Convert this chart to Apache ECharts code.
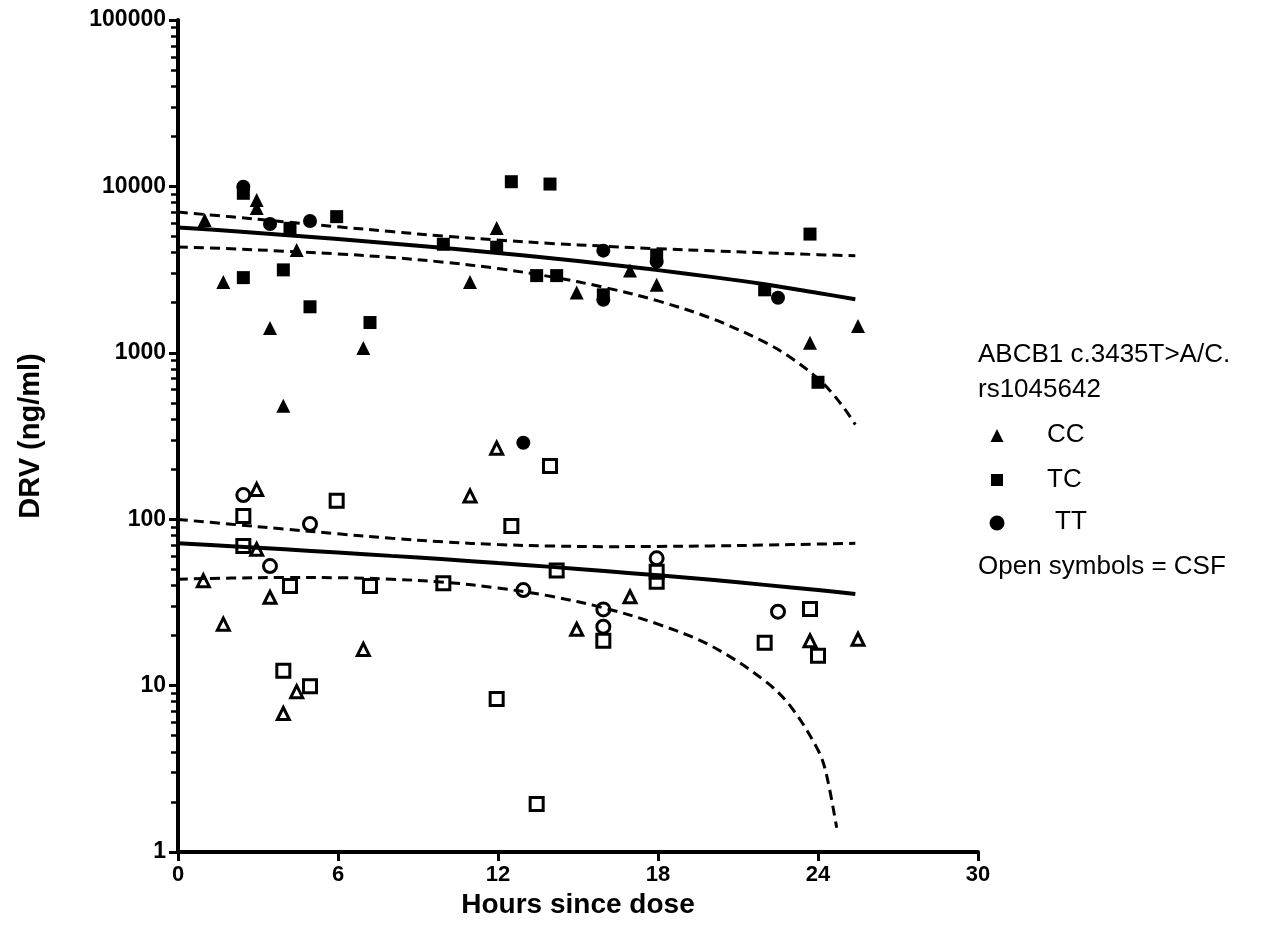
<!DOCTYPE html>
<html>
<head>
<meta charset="utf-8">
<script src="https://cdn.jsdelivr.net/npm/echarts@6/dist/echarts.min.js"></script>
<style>html,body{margin:0;padding:0;background:#fff}#c{width:1264px;height:940px}</style>
</head>
<body>
<div id="c"></div>
<script>
// ---- data (hours since dose, DRV ng/ml) ----
const ccPlasma = [[1.0,6280],[1.7,2660],[2.95,8280],[2.95,7410],[3.45,1410],[3.95,480],[4.45,4150],[6.95,1070],[10.95,2660],[11.95,5620],[14.95,2300],[16.95,3120],[17.95,2560],[23.7,1150],[25.5,1450]];
const tcPlasma = [[2.45,9090],[2.45,2830],[3.95,3150],[4.2,5600],[4.95,1890],[5.95,6580],[7.2,1520],[9.95,4490],[11.95,4310],[12.5,10670],[13.95,10330],[13.45,2910],[14.2,2910],[15.95,2230],[17.95,3870],[22.0,2390],[23.7,5170],[24.0,665]];
const ttPlasma = [[2.45,9960],[3.45,5940],[4.95,6200],[12.95,288],[15.95,4110],[15.95,2080],[17.95,3530],[22.5,2140]];
const ccCSF = [[0.95,42.7],[1.7,23.4],[2.95,151],[2.95,65.9],[3.45,33.9],[3.95,6.8],[4.45,9.2],[6.95,16.5],[10.95,138],[11.95,267],[14.95,21.8],[16.95,34.2],[23.7,18.6],[25.5,19.0]];
const tcCSF = [[2.45,104.5],[2.45,69],[3.95,12.3],[4.2,39.7],[4.95,9.9],[5.95,129],[7.2,39.7],[9.95,41.2],[11.95,8.3],[12.5,91],[13.45,1.94],[13.95,209],[14.2,49.1],[15.95,18.6],[17.95,48.4],[17.95,42.1],[22.0,18.1],[23.7,28.9],[24.0,15.1]];
const ttCSF = [[2.45,139.7],[3.45,52.3],[4.95,93.6],[12.95,37.5],[15.95,28.7],[15.95,22.6],[17.95,58.2],[22.5,27.8]];

// fitted lines and 95% bands
const fitHours = [0,2,4,6,8,10,12,14,16,18,20,22,24,25.4];
const plasmaFit   = [5670,5390,5110,4830,4540,4260,3980,3700,3420,3140,2860,2580,2290,2100];
const plasmaUpper = [7010,6560,6130,5720,5350,5020,4760,4540,4370,4220,4100,3990,3890,3830];
const plasmaLowerHours = [0,2,4,6,8,10,12,14,16,18,20,22,23,24,24.5,25,25.4];
const plasmaLower = [4330,4220,4080,3930,3740,3500,3210,2860,2470,2050,1610,1160,930,700,580,460,370];
const csfFit   = [71.6,68.8,65.9,63.1,60.2,57.4,54.5,51.7,48.8,46.0,43.2,40.3,37.5,35.5];
const csfUpper = [99.6,93.3,87.2,81.7,76.8,73.0,70.4,69.0,68.4,68.6,69.1,69.9,70.9,71.6];
const csfLowerHours = [0,2,4,6,8,10,12,14,16,18,20,22,23,24,24.3,24.7];
const csfLower = [43.6,44.3,44.6,44.5,43.6,41.8,38.6,34.4,29.2,23.4,17.3,10.7,7.4,4.1,3.0,1.4];

const xTicks = [0,6,12,18,24,30];
const yMajor = [1,10,100,1000,10000,100000];
const yMinor = [];
[1,10,100,1000,10000].forEach(d => { for (let k = 2; k <= 9; k++) yMinor.push(d*k); });

const legendTitle = ['ABCB1 c.3435T>A/C.', 'rs1045642'];
const legendItems = ['CC', 'TC', 'TT'];
const legendNote = 'Open symbols = CSF';

// ---- chart ----
const pair = (xs, ys) => xs.map((x, i) => [x, ys[i]]);
const FONT = 'Liberation Sans, Arial, sans-serif';

function scatter(data, symbol, size, open) {
  return {
    type: 'scatter', data, symbol, symbolSize: size,
    itemStyle: open ? {color: 'transparent', borderColor: '#000', borderWidth: 3, opacity: 1}
                    : {color: '#000', opacity: 1},
    z: 3, silent: true
  };
}
function line(data, dashed) {
  return {
    type: 'line', data, showSymbol: false, symbol: 'none', smooth: 0.35,
    lineStyle: dashed ? {color: '#000', width: 3, type: [10, 6]} : {color: '#000', width: 4},
    z: 2, silent: true
  };
}

const chart = echarts.init(document.getElementById('c'), null, {renderer: 'canvas'});
chart.setOption({
  backgroundColor: '#fff',
  animation: false,
  grid: {left: 178, right: 286, top: 20, bottom: 88, containLabel: false, outerBoundsMode: 'none'},
  xAxis: {
    type: 'value', min: 0, max: 30, interval: 6,
    name: 'Hours since dose', nameLocation: 'middle', nameGap: 38,
    nameTextStyle: {fontFamily: FONT, fontWeight: 'bold', fontSize: 28, color: '#000'},
    axisLine: {show: true, onZero: false, lineStyle: {color: '#000', width: 4}},
    axisTick: {show: true, length: 9, lineStyle: {color: '#000', width: 3}},
    axisLabel: {fontFamily: FONT, fontWeight: 'bold', fontSize: 22, color: '#000', margin: 12,
      customValues: xTicks},
    splitLine: {show: false}
  },
  yAxis: [{
    type: 'log', logBase: 10, min: 1, max: 100000,
    name: 'DRV (ng/ml)', nameLocation: 'middle', nameGap: 133,
    nameTextStyle: {fontFamily: FONT, fontWeight: 'bold', fontSize: 29, color: '#000'},
    axisLine: {show: true, onZero: false, lineStyle: {color: '#000', width: 4}},
    axisTick: {show: true, length: 9, lineStyle: {color: '#000', width: 3}, customValues: yMajor},
    axisLabel: {fontFamily: FONT, fontWeight: 'bold', fontSize: 23, color: '#000', margin: 12,
      customValues: yMajor, formatter: v => String(Math.round(v))},
    splitLine: {show: false}
  }, {
    type: 'log', logBase: 10, min: 1, max: 100000, position: 'left',
    axisLine: {show: false},
    axisTick: {show: true, length: 7, lineStyle: {color: '#000', width: 2.5}, customValues: yMinor},
    axisLabel: {show: false},
    splitLine: {show: false}
  }],
  series: [
    line(pair(fitHours, plasmaFit), false),
    line(pair(fitHours, plasmaUpper), true),
    line(pair(plasmaLowerHours, plasmaLower), true),
    line(pair(fitHours, csfFit), false),
    line(pair(fitHours, csfUpper), true),
    line(pair(csfLowerHours, csfLower), true),
    scatter(ccPlasma, 'triangle', 14, false),
    scatter(tcPlasma, 'rect', 13, false),
    scatter(ttPlasma, 'circle', 14, false),
    scatter(ccCSF, 'triangle', 12, true),
    scatter(tcCSF, 'rect', 13, true),
    scatter(ttCSF, 'circle', 13, true)
  ],
  graphic: [
    {type: 'text', left: 978, top: 342, style: {text: legendTitle[0], font: '26px ' + FONT, fill: '#000'}},
    {type: 'text', left: 978, top: 377, style: {text: legendTitle[1], font: '26px ' + FONT, fill: '#000'}},
    {type: 'polygon', shape: {points: [[997, 429], [990.5, 442], [1003.5, 442]]}, style: {fill: '#000'}},
    {type: 'text', left: 1047, top: 422, style: {text: legendItems[0], font: '26px ' + FONT, fill: '#000'}},
    {type: 'rect', shape: {x: 991, y: 474, width: 12, height: 12}, style: {fill: '#000'}},
    {type: 'text', left: 1047, top: 467, style: {text: legendItems[1], font: '26px ' + FONT, fill: '#000'}},
    {type: 'circle', shape: {cx: 997, cy: 523, r: 7.5}, style: {fill: '#000'}},
    {type: 'text', left: 1055, top: 509, style: {text: legendItems[2], font: '26px ' + FONT, fill: '#000'}},
    {type: 'text', left: 978, top: 554, style: {text: legendNote, font: '26px ' + FONT, fill: '#000'}}
  ]
});
</script>
</body>
</html>
